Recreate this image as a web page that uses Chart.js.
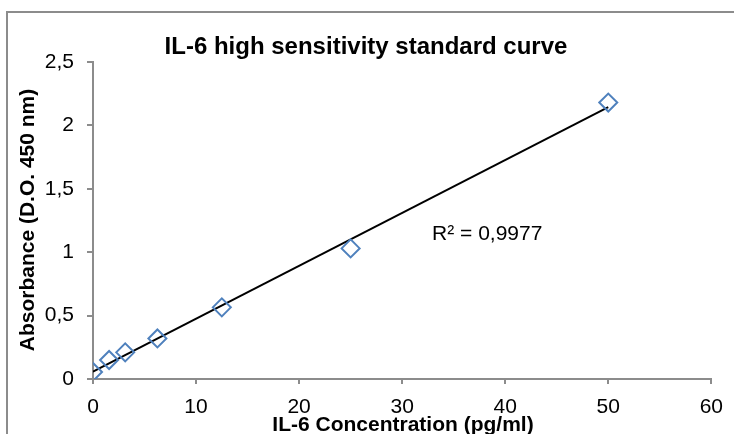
<!DOCTYPE html>
<html>
<head>
<meta charset="utf-8">
<script src="https://cdn.jsdelivr.net/npm/chart.js@4"></script>
<style>
  html, body { margin: 0; padding: 0; background: #fff; }
  #wrap { position: relative; width: 734px; height: 434px; overflow: hidden; }
  #frame { position: absolute; left: 6px; top: 11px; width: 760px; height: 460px; border: 2px solid #8c8c8c; box-sizing: border-box; }
  canvas { position: absolute; left: 0; top: 0; }
</style>
</head>
<body>
<div id="wrap">
  <div id="frame"></div>
  <canvas id="chart" width="734" height="434"></canvas>
</div>
<script>
// standard concentrations (pg/ml) and measured absorbance
const concentrations = [0, 1.5625, 3.125, 6.25, 12.5, 25, 50];
const absorbance = [0.055, 0.15, 0.21, 0.32, 0.565, 1.03, 2.18];
const xTicks = [0, 10, 20, 30, 40, 50, 60];
const yTicks = [0, 0.5, 1, 1.5, 2, 2.5];
const r2Label = 'R² = 0,9977';

const FONT = '"Liberation Sans", Arial, sans-serif';

// least squares fit for the trendline
let n = concentrations.length, sx = 0, sy = 0, sxy = 0, sxx = 0;
for (let i = 0; i < n; i++) {
  sx += concentrations[i]; sy += absorbance[i];
  sxy += concentrations[i] * absorbance[i];
  sxx += concentrations[i] * concentrations[i];
}
const slope = (n * sxy - sx * sy) / (n * sxx - sx * sx);
const intercept = (sy - slope * sx) / n;
const xMax = concentrations[n - 1];
const trend = [{x: 0, y: intercept}, {x: xMax, y: intercept + slope * xMax}];

const textPlugin = {
  id: 'texts',
  afterDraw(chart) {
    const ctx = chart.ctx;
    ctx.save();
    ctx.fillStyle = '#000';
    ctx.textAlign = 'center';
    ctx.textBaseline = 'alphabetic';
    ctx.font = 'bold 24px ' + FONT;
    ctx.fillText('IL-6 high sensitivity standard curve', 366, 54);
    ctx.font = 'bold 21px ' + FONT;
    ctx.fillText('IL-6 Concentration (pg/ml)', 403, 431);
    ctx.save();
    ctx.translate(34, 220);
    ctx.rotate(-Math.PI / 2);
    ctx.fillText('Absorbance (D.O. 450 nm)', 0, 0);
    ctx.restore();
    ctx.font = '21px ' + FONT;
    ctx.textAlign = 'left';
    const xs = chart.scales.x, ys = chart.scales.y;
    ctx.fillText(r2Label, xs.getPixelForValue(32.9), ys.getPixelForValue(1.1));
    ctx.restore();
  }
};

new Chart(document.getElementById('chart'), {
  type: 'scatter',
  data: {
    datasets: [{
      label: 'Standards',
      data: concentrations.map((c, i) => ({x: c, y: absorbance[i]})),
      pointStyle: 'rectRot',
      pointRadius: 9,
      pointHoverRadius: 9,
      pointBorderWidth: 2,
      borderColor: '#4f81bd',
      backgroundColor: 'rgba(0,0,0,0)',
      order: 1
    }, {
      type: 'line',
      label: 'Linear',
      data: trend,
      borderColor: '#000',
      borderWidth: 2,
      pointRadius: 0,
      fill: false,
      order: 2
    }]
  },
  options: {
    responsive: false,
    animation: false,
    events: [],
    layout: { padding: { left: 0, right: 21, top: 62, bottom: 0 } },
    plugins: { legend: { display: false }, title: { display: false }, tooltip: { enabled: false } },
    scales: {
      x: {
        type: 'linear', min: 0, max: 60,
        afterBuildTicks: s => { s.ticks = xTicks.map(v => ({value: v})); },
        afterFit: s => { s.height = 55; },
        border: { color: '#8c8c8c', width: 2 },
        grid: { drawOnChartArea: false, drawTicks: true, tickLength: 5, color: '#8c8c8c', lineWidth: 2 },
        ticks: { color: '#000', font: { family: FONT, size: 21 }, padding: 11, maxRotation: 0 }
      },
      y: {
        type: 'linear', min: 0, max: 2.5,
        afterBuildTicks: s => { s.ticks = yTicks.map(v => ({value: v})); },
        afterFit: s => { s.width = 93; },
        border: { color: '#8c8c8c', width: 2 },
        grid: { drawOnChartArea: false, drawTicks: true, tickLength: 6, color: '#8c8c8c', lineWidth: 2 },
        ticks: { color: '#000', font: { family: FONT, size: 21 }, padding: 13,
          callback: v => String(v).replace('.', ',') }
      }
    }
  },
  plugins: [textPlugin]
});
</script>
</body>
</html>
